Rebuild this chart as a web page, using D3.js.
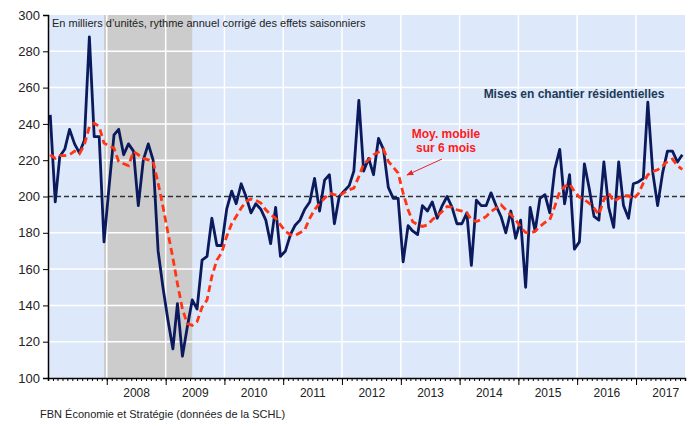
<!DOCTYPE html>
<html>
<head>
<meta charset="utf-8">
<script src="https://cdn.jsdelivr.net/npm/d3@7"></script>
<style>
  body { margin: 0; background: #fff; }
  text { font-family: Arial, "Liberation Sans", sans-serif; }
</style>
</head>
<body>
<div id="chart"></div>
<script>
// Monthly housing starts, thousands of units, SAAR (Jan 2007 -> Oct 2017)
const firstMonth = new Date(2007, 0, 1);
const starts = [
  245, 197, 222, 226, 237, 229, 224, 231, 288, 233, 233, 175,
  205, 234, 237, 223, 229, 225, 195, 220, 229, 220, 170, 150,
  132, 116, 141, 112, 128, 143, 138, 165, 167, 188, 173, 173,
  193, 203, 196, 207, 200, 191, 196, 193, 187, 174, 194, 167,
  170, 179, 184, 187, 193, 197, 210, 192, 209, 212, 185, 200,
  203, 206, 214, 253, 214, 221, 212, 232, 226, 205, 199, 199,
  164, 184, 181, 179, 195, 192, 197, 188, 195, 200, 194, 185,
  185, 191, 162, 198, 195, 195, 202, 195, 189, 180, 192, 177,
  187, 150, 194, 181, 199, 201, 191, 215, 226, 196, 212, 171,
  175, 218, 205, 189, 187, 219, 194, 183, 219, 195, 188, 207,
  208, 210, 252, 213, 195, 213, 225, 225, 219, 223
];
// 6-month moving average
const movingAvg = [
  223, 221, 222.5, 222.5, 223, 225, 223.5, 228.5, 238.5, 240.4, 238.5, 229.4,
  228, 226.6, 219.3, 218, 217, 224.8, 223, 221, 220.2, 219.3, 207.4, 194.5,
  180, 166, 152, 138, 130, 129, 131, 139, 143, 156, 165, 169,
  178, 185, 189, 193.6, 197.3, 198.6, 198, 196.4, 192.7, 190, 188, 184.4,
  180.8, 179, 178.4, 180, 181.7, 188, 192.7, 196.4, 199, 201.8, 201, 200.4,
  202.2, 203.7, 204.6, 211, 218, 220.2, 223, 224.5, 226, 219.3, 216.2, 212.9,
  201.8, 192.7, 186.2, 184.4, 183.5, 184.4, 187.2, 189.4, 191.7, 194.5, 194, 192.7,
  192, 191, 187.2, 186.2, 187.2, 189, 191.7, 193.6, 195.4, 192.7, 190, 187.2,
  183.1, 180.2, 179.8, 180.8, 183.5, 185.7, 187.2, 194.5, 202.8, 205.5, 207, 202.8,
  199.6, 198.2, 196.4, 193.6, 190, 198.2, 201.8, 197.3, 199, 200.4, 200.4, 198.6,
  201.5, 207.4, 212, 213.8, 214.7, 216.9, 219.3, 220.6, 217, 215
];
const yearLabels = [2008, 2009, 2010, 2011, 2012, 2013, 2014, 2015, 2016, 2017];
const yTicks = [100, 120, 140, 160, 180, 200, 220, 240, 260, 280, 300];
const recession = [new Date(2007, 11, 1), new Date(2009, 5, 1)];

const width = 690, height = 426;
const margin = { top: 15, right: 5, bottom: 48, left: 48 };

const monthOf = i => d3.timeMonth.offset(firstMonth, i);
const mid = d => new Date(d.getFullYear(), d.getMonth(), 15);

const svg = d3.select('#chart').append('svg')
  .attr('width', width)
  .attr('height', height);

const x = d3.scaleTime()
  .domain([firstMonth, new Date(2017, 10, 1)])
  .range([margin.left, width - margin.right]);

const y = d3.scaleLinear()
  .domain([100, 300])
  .range([height - margin.bottom, margin.top]);

// plot background
svg.append('rect')
  .attr('x', x.range()[0])
  .attr('y', y(300))
  .attr('width', x.range()[1] - x.range()[0])
  .attr('height', y(100) - y(300))
  .attr('fill', '#dde8fa');

// recession shading
svg.append('rect')
  .attr('x', x(mid(recession[0])))
  .attr('y', y(300))
  .attr('width', x(mid(recession[1])) - x(mid(recession[0])))
  .attr('height', y(100) - y(300))
  .attr('fill', '#cccccc');

// grid
svg.append('g')
  .selectAll('line')
  .data(yTicks.filter(v => v > 100 && v < 300 && v !== 200))
  .join('line')
  .attr('x1', x.range()[0]).attr('x2', x.range()[1])
  .attr('y1', d => y(d)).attr('y2', d => y(d))
  .attr('stroke', '#fff').attr('stroke-width', 1.5);

svg.append('g')
  .selectAll('line')
  .data(yearLabels)
  .join('line')
  .attr('x1', d => x(new Date(d, 0, 1))).attr('x2', d => x(new Date(d, 0, 1)))
  .attr('y1', y(300)).attr('y2', y(100))
  .attr('stroke', '#fff').attr('stroke-width', 1.5);

// 200 reference line
svg.append('line')
  .attr('x1', x.range()[0]).attr('x2', x.range()[1])
  .attr('y1', y(200)).attr('y2', y(200))
  .attr('stroke', '#333')
  .attr('stroke-width', 1.5)
  .attr('stroke-dasharray', '5,3');

// series
const line = d3.line()
  .x((d, i) => x(mid(monthOf(i))))
  .y(d => y(d));

svg.append('path')
  .datum(starts)
  .attr('fill', 'none')
  .attr('stroke', '#0b1a5c')
  .attr('stroke-width', 2.8)
  .attr('stroke-linejoin', 'round')
  .attr('d', line);

svg.append('path')
  .datum(movingAvg)
  .attr('fill', 'none')
  .attr('stroke', '#ff3514')
  .attr('stroke-width', 2.8)
  .attr('stroke-dasharray', '7,4')
  .attr('d', line);

// Y axis
const yAxis = svg.append('g')
  .attr('transform', `translate(${margin.left},0)`)
  .call(d3.axisLeft(y).tickValues(yTicks).tickSize(5).tickPadding(3));
yAxis.select('.domain').attr('stroke', '#000').attr('stroke-width', 1.5);
yAxis.selectAll('text').attr('font-size', 13).attr('fill', '#222')
  .attr('font-family', 'Arial, "Liberation Sans", sans-serif');

// X axis: monthly minor ticks, yearly major ticks, labels mid-year
const xMinor = svg.append('g')
  .attr('transform', `translate(0,${height - margin.bottom})`)
  .call(d3.axisBottom(x).ticks(d3.timeMonth.every(1)).tickSize(3).tickFormat(''));
xMinor.select('.domain').attr('stroke', '#000').attr('stroke-width', 1.5);

const xMajor = svg.append('g')
  .attr('transform', `translate(0,${height - margin.bottom})`)
  .call(d3.axisBottom(x).tickValues(yearLabels.map(d => new Date(d, 0, 1))).tickSize(7).tickFormat(''));
xMajor.select('.domain').remove();

const xLabels = svg.append('g')
  .attr('transform', `translate(0,${height - margin.bottom})`)
  .call(d3.axisBottom(x).tickValues(yearLabels.map(d => new Date(d, 6, 1)))
    .tickSize(0).tickPadding(10).tickFormat(d3.timeFormat('%Y')));
xLabels.select('.domain').remove();
xLabels.selectAll('text').attr('font-size', 12).attr('fill', '#222')
  .attr('font-family', 'Arial, "Liberation Sans", sans-serif');

// Annotations
svg.append('text')
  .attr('x', 52).attr('y', 27)
  .attr('font-size', 11).attr('fill', '#222')
  .text("En milliers d’unités, rythme annuel corrigé des effets saisonniers");

svg.append('text')
  .attr('x', 574).attr('y', 98)
  .attr('text-anchor', 'middle')
  .attr('font-size', 12).attr('font-weight', 'bold').attr('fill', '#1b3a57')
  .text('Mises en chantier résidentielles');

const maLabel = svg.append('text')
  .attr('x', 446).attr('y', 138)
  .attr('text-anchor', 'middle')
  .attr('font-size', 12).attr('font-weight', 'bold').attr('fill', '#ff1a1a');
maLabel.append('tspan').attr('x', 446).attr('dy', 0).text('Moy. mobile');
maLabel.append('tspan').attr('x', 446).attr('dy', 14).text('sur 6 mois');

svg.append('defs').append('marker')
  .attr('id', 'arrow')
  .attr('viewBox', '0 0 10 10')
  .attr('refX', 9).attr('refY', 5)
  .attr('markerWidth', 7).attr('markerHeight', 7)
  .attr('orient', 'auto')
  .append('path')
  .attr('d', 'M0,1 L10,5 L0,9 Z')
  .attr('fill', '#e8262a');

svg.append('line')
  .attr('x1', 442).attr('y1', 159)
  .attr('x2', 407).attr('y2', 175)
  .attr('stroke', '#e8262a').attr('stroke-width', 1)
  .attr('marker-end', 'url(#arrow)');

svg.append('text')
  .attr('x', 40).attr('y', 418)
  .attr('font-size', 11).attr('fill', '#222')
  .text('FBN Économie et Stratégie (données de la SCHL)');
</script>
</body>
</html>
